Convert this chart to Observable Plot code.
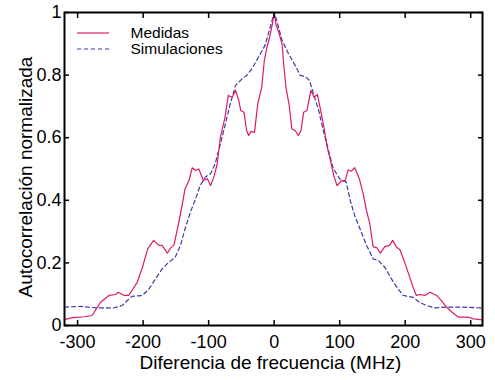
<!DOCTYPE html>
<html><head><meta charset="utf-8">
<script src="https://cdn.jsdelivr.net/npm/d3@7"></script>
<script src="https://cdn.jsdelivr.net/npm/@observablehq/plot@0.6"></script>
<style>body{margin:0;background:#fff} svg{font-family:"Liberation Sans",Arial,sans-serif}</style>
</head><body><div id="chart"></div>
<script>
const freqMedidas = [-320,-308,-290,-278,-265,-252,-242,-238,-229,-222,-209,-201,-193,-184,-176,-171,-163,-158,-153,-146,-141,-136,-130,-125,-120,-115,-108,-102,-97,-92,-87,-82,-75,-70,-64,-59,-54,-51,-46,-42,-39,-35,-30,-25,-19,-15,-11,-7,-3,0,3,7,12,15,18,23,27,32,37,41,45,50,56,61,66,71,76,81,86,91,96,103,108,113,118,123,130,136,141,146,151,157,162,169,176,181,187,192,200,206,211,217,223,230,238,248,255,263,271,281,296,304,318];
const valMedidas = [0.019,0.025,0.028,0.032,0.074,0.096,0.099,0.106,0.096,0.096,0.138,0.186,0.245,0.272,0.256,0.256,0.231,0.248,0.256,0.325,0.378,0.437,0.463,0.504,0.495,0.5,0.463,0.469,0.447,0.474,0.516,0.602,0.665,0.735,0.729,0.751,0.719,0.687,0.681,0.623,0.607,0.62,0.617,0.708,0.761,0.847,0.889,0.921,0.96,1.0,0.96,0.937,0.9,0.825,0.761,0.703,0.628,0.623,0.607,0.623,0.681,0.687,0.751,0.729,0.738,0.687,0.633,0.57,0.527,0.479,0.447,0.463,0.461,0.497,0.493,0.504,0.469,0.42,0.367,0.325,0.252,0.248,0.231,0.252,0.256,0.272,0.25,0.242,0.197,0.16,0.128,0.096,0.099,0.096,0.106,0.096,0.08,0.059,0.043,0.027,0.027,0.021,0.018];
const freqSim = [-320,-295,-270,-245,-232,-224,-217,-201,-191,-181,-171,-161,-151,-143,-136,-127,-119,-113,-105,-97,-90,-82,-75,-67,-59,-49,-42,-34,-24,-14,-6,0,4,12,22,32,40,47,54,60,68,75,83,90,100,110,116,123,131,141,151,159,169,179,189,197,212,222,232,245,263,283,318];
const valSim = [0.059,0.061,0.056,0.056,0.064,0.08,0.093,0.096,0.117,0.149,0.181,0.202,0.218,0.256,0.309,0.367,0.41,0.447,0.474,0.485,0.517,0.581,0.639,0.708,0.767,0.788,0.799,0.82,0.857,0.895,0.953,1.0,0.974,0.911,0.868,0.831,0.799,0.796,0.783,0.74,0.687,0.623,0.559,0.503,0.469,0.458,0.4,0.351,0.309,0.256,0.213,0.208,0.186,0.149,0.117,0.096,0.09,0.074,0.064,0.056,0.059,0.059,0.056];
const xTicks = [-300,-200,-100,0,100,200,300];
const xTickLabels = ["-300","-200","-100","0","100","200","300"];
const yTicks = [0,0.2,0.4,0.6,0.8,1];
const yTickLabels = ["0","0.2","0.4","0.6","0.8","1"];
const seriesNames = ["Medidas","Simulaciones"];
const seriesColors = ["#dc1a68","#3a3aa8"];
const xTitle = "Diferencia de frecuencia (MHz)";
const yTitle = "Autocorrelación normalizada";

const medidas = freqMedidas.map((f,i)=>({f, v: valMedidas[i]}));
const sim = freqSim.map((f,i)=>({f, v: valSim[i]}));

const mL=64, mR=13, mT=12, mB=55;
const noText = () => "";
const chart = Plot.plot({
  width: 495, height: 380,
  marginLeft: mL, marginRight: mR, marginTop: mT, marginBottom: mB,
  style: {fontFamily: '"Liberation Sans", Arial, sans-serif', fontSize: "18px", background: "white", color: "black"},
  x: {domain: [-320, 318]},
  y: {domain: [0, 1]},
  marks: [
    Plot.line(sim, {x: "f", y: "v", stroke: seriesColors[1], strokeWidth: 1.2, strokeDasharray: "4,3"}),
    Plot.line(medidas, {x: "f", y: "v", stroke: seriesColors[0], strokeWidth: 1.2}),
    Plot.axisX(xTicks, {anchor: "bottom", tickSize: -5, tickFormat: noText, label: null, strokeWidth: 1.5}),
    Plot.axisX(xTicks, {anchor: "top", tickSize: -5, tickFormat: noText, label: null, strokeWidth: 1.5}),
    Plot.axisY(yTicks, {anchor: "left", tickSize: -5, tickFormat: noText, label: null, strokeWidth: 1.5}),
    Plot.axisY(yTicks, {anchor: "right", tickSize: -5, tickFormat: noText, label: null, strokeWidth: 1.5}),
    Plot.axisX(xTicks, {anchor: "bottom", tickSize: 0, tickPadding: 10, tickFormat: d => xTickLabels[xTicks.indexOf(d)], label: null, fontSize: 18}),
    Plot.axisY(yTicks, {anchor: "left", tickSize: 0, tickPadding: 3, tickFormat: d => yTickLabels[yTicks.indexOf(d)], label: null, fontSize: 18}),
    Plot.frame({stroke: "black", strokeWidth: 2}),
    Plot.text([xTitle], {frameAnchor: "bottom", lineAnchor: "bottom", textAnchor: "middle", dx: -3, dy: 43, fontSize: 19, fill: "black"}),
    Plot.text([yTitle], {frameAnchor: "left", lineAnchor: "bottom", textAnchor: "middle", rotate: -90, dx: -32.5, dy: 8, fontSize: 19, fill: "black"}),
    Plot.text([seriesNames[0]], {frameAnchor: "top-left", lineAnchor: "bottom", textAnchor: "start", dx: 66, dy: 25.5, fontSize: 15.5, fill: "black"}),
    Plot.text([seriesNames[1]], {frameAnchor: "top-left", lineAnchor: "bottom", textAnchor: "start", dx: 66, dy: 41.2, fontSize: 15.5, fill: "black"})
  ]
});
document.getElementById("chart").appendChild(chart);
// legend sample lines
const svg = d3.select(chart);
const lg = svg.append("g");
lg.append("line").attr("x1", mL+13).attr("x2", mL+45).attr("y1", mT+21).attr("y2", mT+21)
  .attr("stroke", seriesColors[0]).attr("stroke-width", 1.2);
lg.append("line").attr("x1", mL+13).attr("x2", mL+46).attr("y1", mT+37).attr("y2", mT+37)
  .attr("stroke", seriesColors[1]).attr("stroke-width", 1.2).attr("stroke-dasharray", "4,3");
</script></body></html>
